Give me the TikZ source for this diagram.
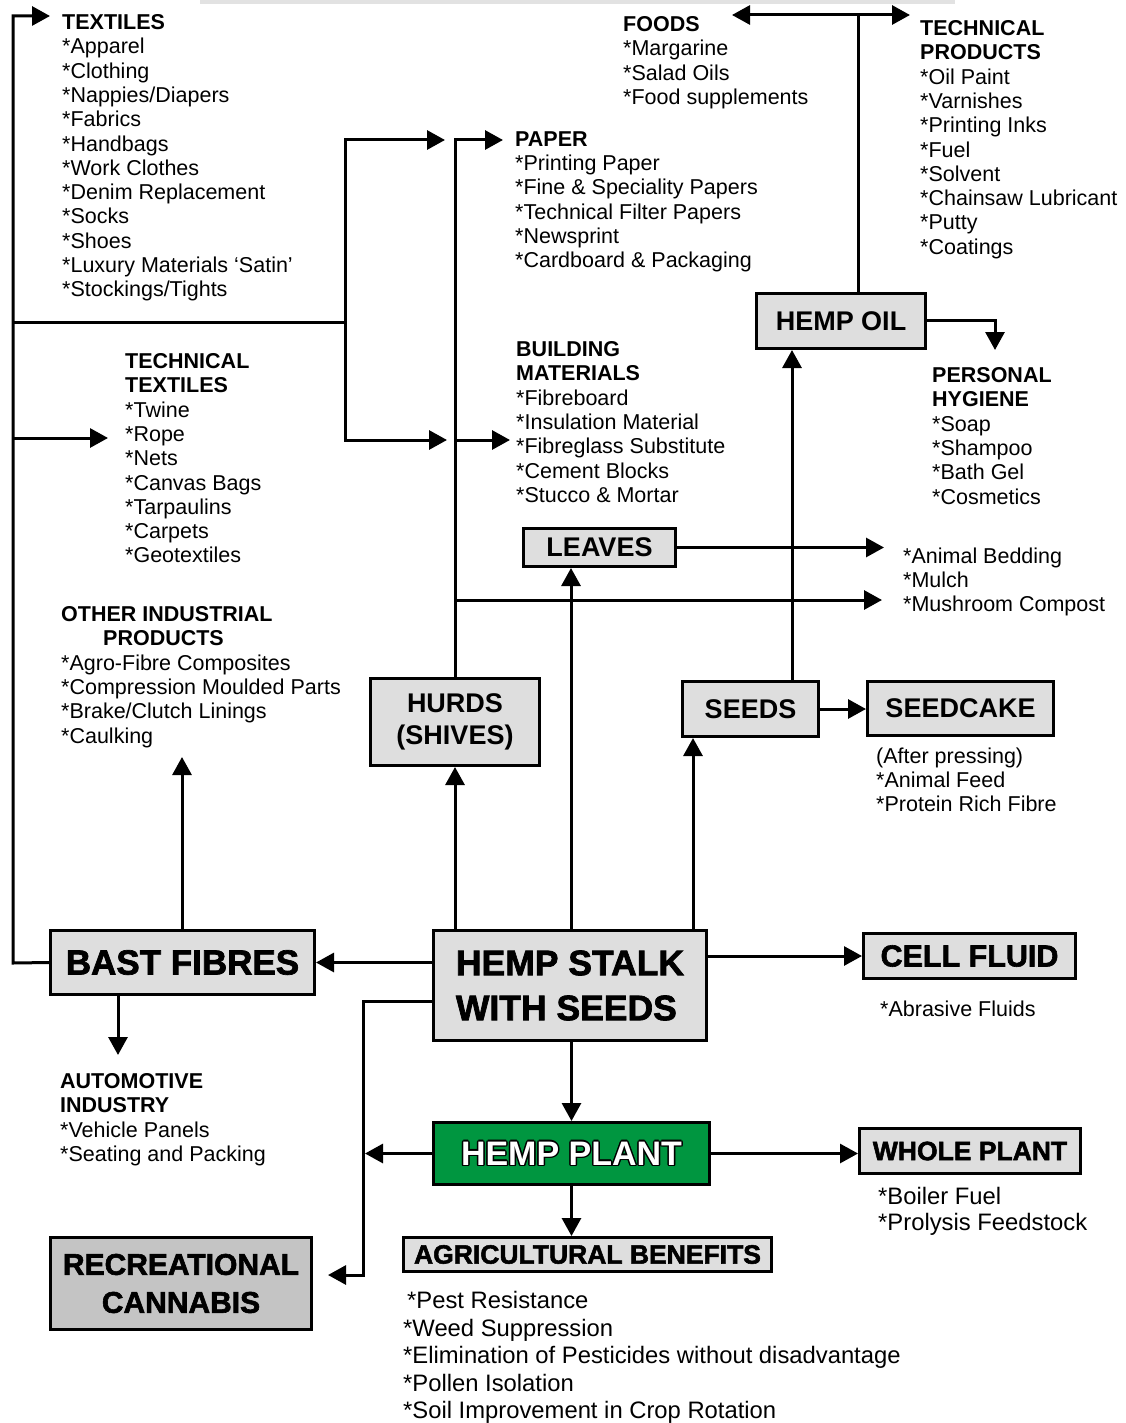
\documentclass[tikz,border=0pt]{standalone}
\usepackage{fontspec}
\setmainfont{Liberation Sans}
\newfontfamily\heavyfont[BoldFeatures={FakeBold=2}]{Liberation Sans}
\usetikzlibrary{arrows.meta,calc}
\definecolor{boxgray}{RGB}{222,222,222}
\definecolor{recgray}{RGB}{196,196,196}
\definecolor{hempgreen}{RGB}{0,150,64}
\definecolor{bargray}{RGB}{226,226,226}
\tikzset{
  box/.style={draw=black, line width=3pt, fill=boxgray, inner sep=0pt, font=\bfseries\fontsize{27}{32}\selectfont, align=center},
  lst/.style={align=left, inner sep=0pt, anchor=north west, font=\fontsize{21.5}{24.3}\selectfont},
  conn/.style={line width=3pt},
  arr/.style={line width=3pt, -{Triangle[length=18pt,width=19pt]}},
}
\begin{document}
\begin{tikzpicture}[x=1pt,y=-1pt]
\useasboundingbox (0,0) rectangle (1126,1423);
\fill[bargray] (200,0) rectangle (955,4);

% ---------- boxes ----------
\node[box, minimum width=169pt, minimum height=55pt] (hempoil) at (841,321) {HEMP OIL};
\node[box, minimum width=152pt, minimum height=38pt] (leaves) at (599.5,547.5) {LEAVES};
\node[box, minimum width=169pt, minimum height=87pt] (hurds) at (455,722) {HURDS\\(SHIVES)};
\node[box, minimum width=136pt, minimum height=55pt] (seeds) at (750.5,709) {SEEDS};
\node[box, minimum width=186pt, minimum height=54pt] (seedcake) at (960.5,708.5) {SEEDCAKE};
\node[box, minimum width=212pt, minimum height=45pt, font=\heavyfont\bfseries\fontsize{30.5}{34}\selectfont] (cell) at (969.5,956) {CELL FLUID};
\node[box, minimum width=264pt, minimum height=64pt, font=\heavyfont\bfseries\fontsize{35}{40}\selectfont] (bast) at (182.5,962.5) {BAST FIBRES};
\node[box, minimum width=273pt, minimum height=110pt, align=left, font=\heavyfont\bfseries\fontsize{35.5}{45}\selectfont] (stalk) at (570,985.5) {HEMP STALK\\WITH SEEDS};
\node[box, fill=hempgreen, minimum width=276pt, minimum height=62pt] (plant) at (571.5,1153.5) {};
\foreach \a in {0,45,...,315}
  \node[font=\bfseries\fontsize{34}{38}\selectfont, text=black, inner sep=0pt] at ($(plant.center)+(\a:1.5pt)$) {HEMP PLANT};
\node[font=\bfseries\fontsize{34}{38}\selectfont, text=white, inner sep=0pt] (plantlabel) at (plant.center) {HEMP PLANT};
\node[box, minimum width=221pt, minimum height=45pt, font=\heavyfont\bfseries\fontsize{26.5}{30}\selectfont] (whole) at (970,1151) {WHOLE PLANT};
\node[box, minimum width=368pt, minimum height=34pt, font=\heavyfont\bfseries\fontsize{26.5}{30}\selectfont] (agri) at (587.5,1254.5) {AGRICULTURAL BENEFITS};
\node[box, fill=recgray, minimum width=261pt, minimum height=92pt, font=\heavyfont\bfseries\fontsize{30}{38}\selectfont] (recre) at (181,1283.5) {RECREATIONAL\\CANNABIS};

% ---------- text lists ----------
\node[lst] (textiles) at (62,14.3) {\textbf{TEXTILES}\\{}*Apparel\\{}*Clothing\\{}*Nappies/Diapers\\{}*Fabrics\\{}*Handbags\\{}*Work Clothes\\{}*Denim Replacement\\{}*Socks\\{}*Shoes\\{}*Luxury Materials ‘Satin’\\{}*Stockings/Tights};
\node[lst] (foods) at (623,16.3) {\textbf{FOODS}\\{}*Margarine\\{}*Salad Oils\\{}*Food supplements};
\node[lst] (techprod) at (920,20.3) {\textbf{TECHNICAL}\\\textbf{PRODUCTS}\\{}*Oil Paint\\{}*Varnishes\\{}*Printing Inks\\{}*Fuel\\{}*Solvent\\{}*Chainsaw Lubricant\\{}*Putty\\{}*Coatings};
\node[lst] (paper) at (515,131.3) {\textbf{PAPER}\\{}*Printing Paper\\{}*Fine \& Speciality Papers\\{}*Technical Filter Papers\\{}*Newsprint\\{}*Cardboard \& Packaging};
\node[lst] (techtex) at (125,353.3) {\textbf{TECHNICAL}\\\textbf{TEXTILES}\\{}*Twine\\{}*Rope\\{}*Nets\\{}*Canvas Bags\\{}*Tarpaulins\\{}*Carpets\\{}*Geotextiles};
\node[lst] (building) at (516,341.3) {\textbf{BUILDING}\\\textbf{MATERIALS}\\{}*Fibreboard\\{}*Insulation Material\\{}*Fibreglass Substitute\\{}*Cement Blocks\\{}*Stucco \& Mortar};
\node[lst] (hygiene) at (932,367.3) {\textbf{PERSONAL}\\\textbf{HYGIENE}\\{}*Soap\\{}*Shampoo\\{}*Bath Gel\\{}*Cosmetics};
\node[lst] (bedding) at (903,547.3) {*Animal Bedding\\{}*Mulch\\{}*Mushroom Compost};
\node[lst] (otherind) at (61,606.3) {\textbf{OTHER INDUSTRIAL}\\\hspace*{42pt}\textbf{PRODUCTS}\\{}*Agro-Fibre Composites\\{}*Compression Moulded Parts\\{}*Brake/Clutch Linings\\{}*Caulking};
\node[lst] (cakelist) at (876,747.3) {(After pressing)\\{}*Animal Feed\\{}*Protein Rich Fibre};
\node[lst] (abrasive) at (880,1000.3) {*Abrasive Fluids};
\node[lst] (automotive) at (60,1073.3) {\textbf{AUTOMOTIVE}\\\textbf{INDUSTRY}\\{}*Vehicle Panels\\{}*Seating and Packing};
\node[lst, font=\fontsize{23.8}{25.8}\selectfont] (boiler) at (878,1187.5) {*Boiler Fuel\\{}*Prolysis Feedstock};
\node[lst, font=\fontsize{23.8}{27.4}\selectfont] (agrilist) at (403,1291.5) {\hspace*{4pt}*Pest Resistance\\{}*Weed Suppression\\{}*Elimination of Pesticides without disadvantage\\{}*Pollen Isolation\\{}*Soil Improvement in Crop Rotation};

% ---------- free connector ends ----------
\coordinate (xl) at (571,0);
\coordinate (xs) at (693,0);
\coordinate (xo) at (792,0);
\coordinate (xf) at (858,0);
\coordinate (rc) at (363,1001);
\coordinate (rcb) at (363,1275);
\coordinate (rcend) at (328,1275);
\coordinate (autoend) at (118,1055);
\coordinate (oipend) at (182,757);
\coordinate (lb) at (13,963);
\coordinate (lt) at (13,16);
\coordinate (textend) at (50,16);
\coordinate (lm) at (13,322);
\coordinate (mm) at (345,322);
\coordinate (mt) at (345,140);
\coordinate (mtend) at (445,140);
\coordinate (mb) at (345,440);
\coordinate (mbend) at (447,440);
\coordinate (lr) at (13,438);
\coordinate (lrend) at (108,438);
\coordinate (ht) at (455,140);
\coordinate (htend) at (503,140);
\coordinate (hb) at (455,440);
\coordinate (hbend) at (510,440);
\coordinate (hc) at (455,600);
\coordinate (hcend) at (882,600);
\coordinate (lvend) at (884,547.5);
\coordinate (ft) at (858,15);
\coordinate (ftl) at (732,15);
\coordinate (ftr) at (910,15);
\coordinate (ho) at (995,320);
\coordinate (hoend) at (995,350);

% ---------- connectors ----------
\draw[arr] (stalk.west |- bast.east) -- (bast.east);
\draw[arr] (stalk.east |- cell.west) -- (cell.west);
\draw[arr] (stalk.south -| plant.north) -- (plant.north);
\draw[arr] (plant.east) -- (plant.east -| whole.west);
\draw[arr] (plant.south) -- (plant.south |- agri.north);
\draw[arr] (stalk.west |- rc) -- (rc) -- (rcb) -- (rcend);
\draw[arr] (plant.west) -- ($(plant.west -| rc)+(2,0)$);
\draw[arr] (bast.south -| autoend) -- (autoend);
\draw[arr] (bast.north -| oipend) -- (oipend);
\draw[arr] (bast.west) -- (lb) -- (lt) -- (textend);
\draw[conn] (lm) -- (mm);
\draw[arr] (mm) -- (mt) -- (mtend);
\draw[arr] (mm) -- (mb) -- (mbend);
\draw[arr] (lr) -- (lrend);
\draw[arr] (hurds.north) -- (ht) -- (htend);
\draw[arr] (hb) -- (hbend);
\draw[arr] (hc) -- (hcend);
\draw[arr] (leaves.east) -- (lvend);
\draw[arr] (seeds.east) -- (seeds.east -| seedcake.west);
\draw[arr] (seeds.north -| xo) -- (hempoil.south -| xo);
\draw[arr] (hempoil.north -| xf) -- (ft) -- (ftr);
\draw[arr] (ft) -- (ftl);
\draw[arr] (hempoil.east |- ho) -- (ho) -- (hoend);
\draw[arr] (stalk.north -| hurds.south) -- (hurds.south);
\draw[arr] (stalk.north -| xl) -- (leaves.south -| xl);
\draw[arr] (stalk.north -| xs) -- (seeds.south -| xs);
\end{tikzpicture}
\end{document}
